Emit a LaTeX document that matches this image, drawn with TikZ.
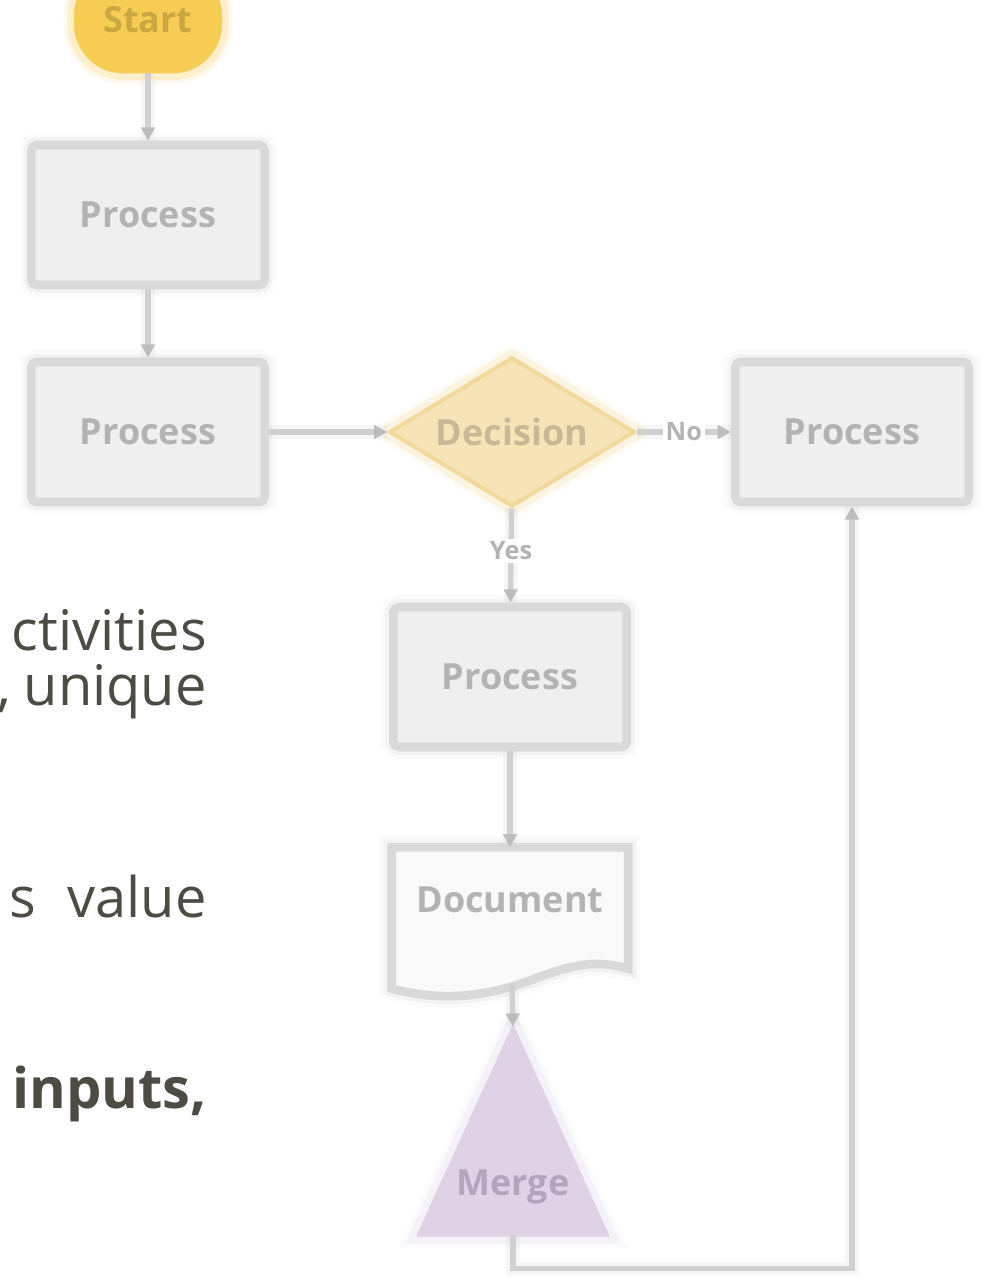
\documentclass[tikz,border=0pt]{standalone}
\usepackage{fontspec}
\setmainfont{Open Sans}
\usetikzlibrary{arrows.meta,shapes.geometric,calc}

\definecolor{boxfill}{HTML}{EFEFEF}
\definecolor{boxline}{HTML}{D9D9D9}
\definecolor{connline}{HTML}{D0D0D0}
\definecolor{tipcol}{HTML}{BDBDBD}
\definecolor{boxtext}{HTML}{B3B3B3}
\definecolor{startfill}{HTML}{F6CD52}
\definecolor{starttext}{HTML}{CBA742}
\definecolor{decfill}{HTML}{F7E4B6}
\definecolor{decline}{HTML}{F2D99B}
\definecolor{dectext}{HTML}{C8B895}
\definecolor{docfill}{HTML}{F9F9F9}
\definecolor{trifill}{HTML}{DFD2E7}
\definecolor{tritext}{HTML}{B4A5BD}
\definecolor{paratext}{HTML}{4E4C42}

\newcommand\diagfont{\fontsize{27}{30}\selectfont\bfseries}
\newcommand\lblfont{\fontsize{19}{22}\selectfont\bfseries}
\newcommand\parafont{\fontsize{42}{50}\selectfont}

\tikzset{
  soft/.style={preaction={draw=#1, line width=18pt, opacity=.10},
               preaction={draw=#1, line width=12pt, opacity=.22}},
  box/.style={rectangle, rounded corners=4pt, fill=boxfill, draw=boxline,
              line width=6.5pt, soft=boxline, minimum width=175pt,
              minimum height=105pt, inner sep=0pt, font=\diagfont, text=boxtext},
  startbox/.style={rectangle, rounded corners=36pt, fill=startfill,
              draw=startfill, line width=2pt, soft=startfill,
              minimum width=109pt, minimum height=78pt, font=\diagfont, text=starttext},
  decbox/.style={diamond, aspect=1.6, fill=decfill, draw=decline, line width=3pt,
              soft=decline, minimum width=184pt, minimum height=112pt,
              inner sep=0pt, font=\diagfont, text=dectext},
  docbox/.style={rectangle, minimum width=177pt, minimum height=86pt,
              inner sep=0pt, font=\diagfont, text=boxtext},
  docshape/.style={fill=docfill, draw=boxline, line width=6.5pt, soft=boxline},
  tribox/.style={rectangle, minimum width=142pt, minimum height=156pt, inner sep=0pt},
  trishape/.style={fill=trifill, draw=trifill, line width=2pt, soft=trifill},
  trilabel/.style={font=\diagfont, text=tritext},
  conn/.style={draw=connline, line width=4pt,
              -{Triangle[length=10pt,width=10pt,color=tipcol]},
              preaction={draw=connline, line width=10pt, opacity=.18, arrows=-}},
  lbl/.style={fill=white, inner sep=2pt, font=\lblfont, text=boxtext},
  para/.style={font=\parafont, text=paratext, inner sep=0pt, anchor=base east}
}

\begin{document}
\begin{tikzpicture}[x=0.75pt, y=-0.75pt]
  \useasboundingbox (0,0) rectangle (986,1281);
  \fill[white] (0,0) rectangle (986,1281);

  % flowchart, cut off at its left edge
  \begin{scope}
    \clip (21,-10) rectangle (996,1291);

    \node[startbox] (start) at (148,20) {Start};
    \node[box] (p1) at (148,215) {Process};
    \node[box] (p2) at (148,432) {Process};
    \node[decbox] (dec) at (512,432) {Decision};
    \node[box] (p3) at (852,432) {Process};
    \node[box] (p4) at (510,677) {Process};

    % document: plain box for the text, wavy outline drawn behind it
    \node[docbox] (doc) at (510,905) {};
    \path[docshape] (doc.north west) -- (doc.north east)
      -- ($(doc.south east)+(0,6)$)
      .. controls ($(doc.south east)+(-30,-2)$) and ($(doc.south)+(70,0)$) .. ($(doc.south)+(30,14)$)
      .. controls ($(doc.south)+(-10,30)$) and ($(doc.south west)+(60,42)$) .. ($(doc.south west)+(0,26)$)
      -- cycle;
    \node[docbox] (doctext) at ($(doc.center)+(0,-5)$) {Document};
    \coordinate (docb) at ($(doc.south)+(2,22)$);

    % triangle
    \node[tribox] (tri) at (513,1131) {};
    \path[trishape] (tri.north) -- (tri.south east) -- (tri.south west) -- cycle;
    \node[trilabel] (trilbl) at ($(tri.south)+(0,-48)$) {Merge};

    % connectors
    \draw[conn] (start) -- (p1);
    \draw[conn] (p1) -- (p2);
    \draw[conn] (p2) -- (dec);
    \draw[conn] (dec) -- node[lbl] (no) {No} (p3);
    \draw[conn] (dec) -- node[lbl, pos=0.45] (yes) {Yes} (p4);
    \draw[conn] (p4) -- (doc.north);
    \draw[conn] (docb) -- (tri.north);
    \draw[conn] (tri.south) -- ++(0,33) -| (p3.south);
  \end{scope}

  % paragraph text running in from the left
  \node[para] (l1) at (207,650) {ctivities};
  \node[para] (l2) at (207,705) {,\hspace{0.22em}unique};
  \node[para] (l3) at (207,917) {s\hspace{0.3em} value};
  \node[para] (l4) at (207,1108) {\bfseries inputs,};
\end{tikzpicture}
\end{document}
